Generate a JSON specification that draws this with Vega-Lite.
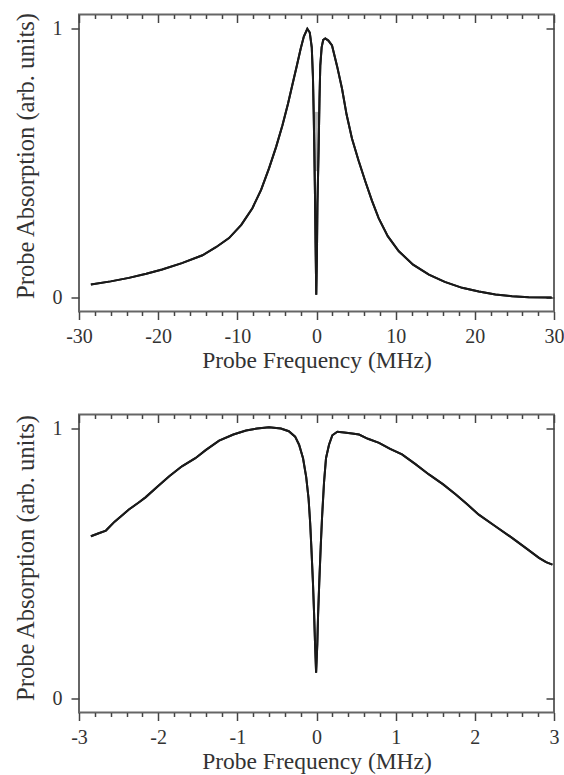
{
  "$schema": "https://vega.github.io/schema/vega-lite/v6.json",
  "padding": {"left": 11, "top": 10.5, "right": 10, "bottom": 0},
  "bounds": "flush",
  "spacing": 103,
  "datasets": {
    "a": [
      {"f": -28.5, "v": 0.048}, {"f": -26, "v": 0.06}, {"f": -23.7, "v": 0.073}, {"f": -21.5, "v": 0.088},
      {"f": -19.5, "v": 0.104}, {"f": -17, "v": 0.128}, {"f": -14.4, "v": 0.157}, {"f": -12.7, "v": 0.187},
      {"f": -11.05, "v": 0.221}, {"f": -9.5, "v": 0.27}, {"f": -8.1, "v": 0.332}, {"f": -7, "v": 0.4},
      {"f": -6, "v": 0.48}, {"f": -5.1, "v": 0.56}, {"f": -4.3, "v": 0.64}, {"f": -3.6, "v": 0.72},
      {"f": -3.06, "v": 0.789}, {"f": -2.5, "v": 0.86}, {"f": -2, "v": 0.925}, {"f": -1.6, "v": 0.97},
      {"f": -1.16, "v": 0.999}, {"f": -0.85, "v": 0.985}, {"f": -0.6, "v": 0.93}, {"f": -0.45, "v": 0.82},
      {"f": -0.35, "v": 0.68}, {"f": -0.28, "v": 0.555}, {"f": -0.2, "v": 0.4}, {"f": -0.12, "v": 0.2},
      {"f": -0.03, "v": 0.01}, {"f": 0.05, "v": 0.15}, {"f": 0.12, "v": 0.35}, {"f": 0.27, "v": 0.555},
      {"f": 0.38, "v": 0.74}, {"f": 0.48, "v": 0.863}, {"f": 0.65, "v": 0.93}, {"f": 0.85, "v": 0.958},
      {"f": 1.11, "v": 0.963}, {"f": 1.5, "v": 0.955}, {"f": 1.96, "v": 0.937}, {"f": 2.6, "v": 0.86},
      {"f": 3.22, "v": 0.777}, {"f": 3.8, "v": 0.68}, {"f": 4.48, "v": 0.591}, {"f": 5.3, "v": 0.51},
      {"f": 6.17, "v": 0.431}, {"f": 7, "v": 0.36}, {"f": 7.85, "v": 0.295}, {"f": 9, "v": 0.228},
      {"f": 10.4, "v": 0.172}, {"f": 12.2, "v": 0.122}, {"f": 14.2, "v": 0.085}, {"f": 16.2, "v": 0.058},
      {"f": 18.4, "v": 0.036}, {"f": 20.5, "v": 0.022}, {"f": 22.6, "v": 0.011}, {"f": 24.7, "v": 0.005},
      {"f": 26.8, "v": 0.001}, {"f": 29.7, "v": 0.0}
    ],
    "noise": [
      {"f": 0.06, "v": 0.47, "v2": 0.69}
    ],
    "b": [
      {"f": -2.85, "v": 0.601}, {"f": -2.75, "v": 0.612}, {"f": -2.66, "v": 0.622}, {"f": -2.55, "v": 0.655},
      {"f": -2.45, "v": 0.68}, {"f": -2.37, "v": 0.7}, {"f": -2.25, "v": 0.725}, {"f": -2.16, "v": 0.745},
      {"f": -2.0, "v": 0.787}, {"f": -1.86, "v": 0.823}, {"f": -1.7, "v": 0.86}, {"f": -1.53, "v": 0.89},
      {"f": -1.4, "v": 0.92}, {"f": -1.23, "v": 0.955}, {"f": -1.05, "v": 0.978}, {"f": -0.89, "v": 0.993},
      {"f": -0.75, "v": 1.0}, {"f": -0.6, "v": 1.005}, {"f": -0.45, "v": 1.0}, {"f": -0.35, "v": 0.99},
      {"f": -0.27, "v": 0.97}, {"f": -0.22, "v": 0.94}, {"f": -0.17, "v": 0.89}, {"f": -0.13, "v": 0.82},
      {"f": -0.1, "v": 0.74}, {"f": -0.08, "v": 0.65}, {"f": -0.065, "v": 0.56}, {"f": -0.045, "v": 0.43},
      {"f": -0.03, "v": 0.31}, {"f": -0.018, "v": 0.2}, {"f": -0.005, "v": 0.095}, {"f": 0.01, "v": 0.2},
      {"f": 0.02, "v": 0.31}, {"f": 0.035, "v": 0.43}, {"f": 0.053, "v": 0.56}, {"f": 0.07, "v": 0.67},
      {"f": 0.095, "v": 0.8}, {"f": 0.12, "v": 0.89}, {"f": 0.158, "v": 0.94}, {"f": 0.2, "v": 0.975},
      {"f": 0.263, "v": 0.988}, {"f": 0.35, "v": 0.985}, {"f": 0.45, "v": 0.982}, {"f": 0.537, "v": 0.978},
      {"f": 0.65, "v": 0.962}, {"f": 0.79, "v": 0.947}, {"f": 0.93, "v": 0.925}, {"f": 1.08, "v": 0.904},
      {"f": 1.25, "v": 0.868}, {"f": 1.42, "v": 0.83}, {"f": 1.6, "v": 0.793}, {"f": 1.76, "v": 0.756},
      {"f": 1.9, "v": 0.72}, {"f": 2.05, "v": 0.681}, {"f": 2.25, "v": 0.64}, {"f": 2.47, "v": 0.595},
      {"f": 2.65, "v": 0.556}, {"f": 2.81, "v": 0.521}, {"f": 2.9, "v": 0.505}, {"f": 2.98, "v": 0.496}
    ]
  },
  "vconcat": [
    {
      "width": 475,
      "height": 297,
      "layer": [
        {
          "data": {"name": "noise"},
          "mark": {"type": "rule", "color": "#b5b5b5", "strokeWidth": 4},
          "encoding": {
            "x": {"field": "f", "type": "quantitative", "scale": {"domain": [-30, 30], "nice": false, "zero": false}, "axis": null},
            "y": {"field": "v", "type": "quantitative", "scale": {"domain": [-0.052, 1.052], "nice": false, "zero": false}, "axis": null},
            "y2": {"field": "v2"}
          }
        },
        {
          "data": {"name": "a"},
          "mark": {"type": "line", "color": "#1a1a1a", "strokeWidth": 2},
          "encoding": {
            "x": {"field": "f", "type": "quantitative", "scale": {"domain": [-30, 30], "nice": false, "zero": false},
              "axis": {"orient": "bottom",
                "values": [-30, -28, -26, -24, -22, -20, -18, -16, -14, -12, -10, -8, -6, -4, -2, 0, 2, 4, 6, 8, 10, 12, 14, 16, 18, 20, 22, 24, 26, 28, 30],
                "tickSize": {"condition": {"test": "datum.value % 10 === 0", "value": 8}, "value": 4},
                "title": "Probe Frequency (MHz)",
                "labelExpr": "datum.value % 10 !== 0 ? '' : (datum.value < 0 ? '-' + abs(datum.value) : '' + datum.value)"}},
            "y": {"field": "v", "type": "quantitative", "scale": {"domain": [-0.052, 1.052], "nice": false, "zero": false},
              "axis": {"orient": "left", "values": [0, 1], "format": "d", "tickSize": 8, "titleY": 141, "title": "Probe Absorption (arb. units)"}}
          }
        },
        {
          "data": {"name": "a"},
          "mark": {"type": "line", "color": "#1a1a1a", "strokeWidth": 2},
          "encoding": {
            "x": {"field": "f", "type": "quantitative", "scale": {"domain": [-30, 30], "nice": false, "zero": false},
              "axis": {"orient": "top",
                "values": [-30, -28, -26, -24, -22, -20, -18, -16, -14, -12, -10, -8, -6, -4, -2, 0, 2, 4, 6, 8, 10, 12, 14, 16, 18, 20, 22, 24, 26, 28, 30],
                "tickSize": {"condition": {"test": "datum.value % 10 === 0", "value": -8}, "value": -4},
                "labels": false, "title": null}},
            "y": {"field": "v", "type": "quantitative", "scale": {"domain": [-0.052, 1.052], "nice": false, "zero": false},
              "axis": {"orient": "right", "values": [0, 1], "tickSize": -8, "labels": false, "title": null}}
          }
        },
        {
          "mark": {"type": "text", "font": "Liberation Serif", "fontSize": 20, "color": "#555"},
          "encoding": {
            "x": {"datum": 26, "type": "quantitative", "axis": null},
            "y": {"datum": 0.926, "type": "quantitative", "axis": null},
            "text": {"value": "(a)"}
          }
        }
      ],
      "resolve": {"axis": {"x": "independent", "y": "independent"}}
    },
    {
      "width": 475,
      "height": 298,
      "layer": [
        {
          "data": {"name": "b"},
          "mark": {"type": "line", "color": "#1a1a1a", "strokeWidth": 2},
          "encoding": {
            "x": {"field": "f", "type": "quantitative", "scale": {"domain": [-3, 3], "nice": false, "zero": false},
              "axis": {"orient": "bottom",
                "values": [-3, -2.8, -2.6, -2.4, -2.2, -2, -1.8, -1.6, -1.4, -1.2, -1, -0.8, -0.6, -0.4, -0.2, 0, 0.2, 0.4, 0.6, 0.8, 1, 1.2, 1.4, 1.6, 1.8, 2, 2.2, 2.4, 2.6, 2.8, 3],
                "tickSize": {"condition": {"test": "abs(datum.value - round(datum.value)) < 0.01", "value": 8}, "value": 4},
                "title": "Probe Frequency (MHz)",
                "labelExpr": "abs(datum.value - round(datum.value)) >= 0.01 ? '' : (datum.value < 0 ? '-' + abs(round(datum.value)) : '' + round(datum.value))"}},
            "y": {"field": "v", "type": "quantitative", "scale": {"domain": [-0.052, 1.052], "nice": false, "zero": false},
              "axis": {"orient": "left", "values": [0, 1], "format": "d", "tickSize": 8, "titleY": 143, "title": "Probe Absorption (arb. units)"}}
          }
        },
        {
          "data": {"name": "b"},
          "mark": {"type": "line", "color": "#1a1a1a", "strokeWidth": 2},
          "encoding": {
            "x": {"field": "f", "type": "quantitative", "scale": {"domain": [-3, 3], "nice": false, "zero": false},
              "axis": {"orient": "top",
                "values": [-3, -2.8, -2.6, -2.4, -2.2, -2, -1.8, -1.6, -1.4, -1.2, -1, -0.8, -0.6, -0.4, -0.2, 0, 0.2, 0.4, 0.6, 0.8, 1, 1.2, 1.4, 1.6, 1.8, 2, 2.2, 2.4, 2.6, 2.8, 3],
                "tickSize": {"condition": {"test": "abs(datum.value - round(datum.value)) < 0.01", "value": -8}, "value": -4},
                "labels": false, "title": null}},
            "y": {"field": "v", "type": "quantitative", "scale": {"domain": [-0.052, 1.052], "nice": false, "zero": false},
              "axis": {"orient": "right", "values": [0, 1], "tickSize": -8, "labels": false, "title": null}}
          }
        },
        {
          "mark": {"type": "text", "font": "Liberation Serif", "fontSize": 20, "color": "#555"},
          "encoding": {
            "x": {"datum": 2.62, "type": "quantitative", "axis": null},
            "y": {"datum": 0.915, "type": "quantitative", "axis": null},
            "text": {"value": "(b)"}
          }
        }
      ],
      "resolve": {"axis": {"x": "independent", "y": "independent"}}
    }
  ],
  "config": {
    "view": {"stroke": "#666", "strokeWidth": 2},
    "axis": {
      "domain": false,
      "grid": false,
      "tickColor": "#444",
      "tickWidth": 1.5,
      "labelFlush": false,
      "labelFont": "Liberation Serif",
      "labelFontSize": 20,
      "labelColor": "#333",
      "labelPadding": 7,
      "titleFont": "Liberation Serif",
      "titleFontSize": 23.5,
      "titleFontWeight": "normal",
      "titleColor": "#333",
      "titlePadding": 2
    },
    "axisY": {"titlePadding": 14, "labelPadding": 9, "titleFontSize": 24.5}
  }
}
